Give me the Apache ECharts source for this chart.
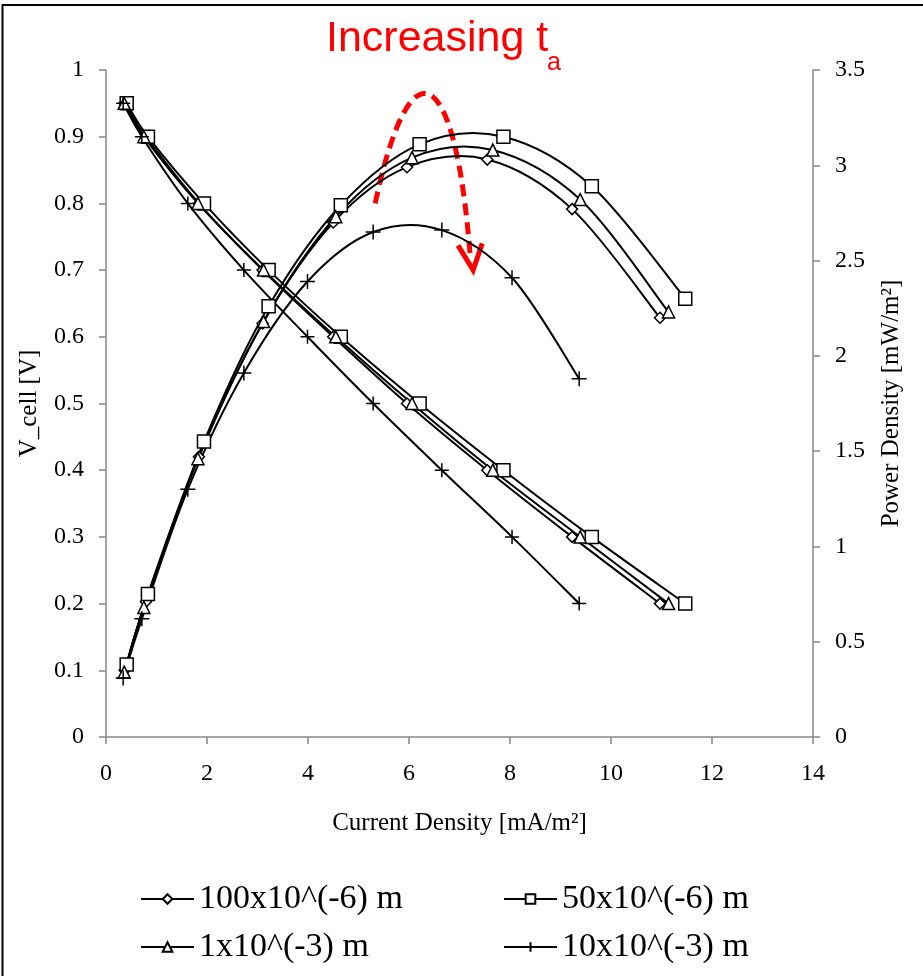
<!DOCTYPE html>
<html lang="en">
<head>
	<meta charset="UTF-8">
	<title>V_cell and power density</title>
	<script src="https://cdn.jsdelivr.net/npm/echarts@6/dist/echarts.min.js"></script>
	<style>
		html, body { margin: 0; padding: 0; background: #fff; }
	</style>
</head>
<body>
	<div id="main" style="width: 923px; height: 976px;"></div>
	<script type="text/javascript">
	// cell voltage levels, same for every case
	var volt = [0.95, 0.9, 0.8, 0.7, 0.6, 0.5, 0.4, 0.3, 0.2];

	// current density [mA/m2]
	var current_100u = [0.37, 0.79, 1.84, 3.10, 4.50, 5.96, 7.55, 9.23, 10.97];
	var current_50u = [0.41, 0.83, 1.94, 3.22, 4.65, 6.21, 7.87, 9.62, 11.47];
	var current_1m = [0.36, 0.75, 1.82, 3.12, 4.55, 6.06, 7.66, 9.39, 11.14];
	var current_10m = [0.34, 0.71, 1.62, 2.73, 3.99, 5.29, 6.65, 8.04, 9.37];

	// power density [mW/m2]
	var power_100u = [0.35, 0.71, 1.47, 2.17, 2.70, 2.99, 3.03, 2.77, 2.20];
	var power_50u = [0.38, 0.75, 1.55, 2.26, 2.79, 3.11, 3.15, 2.89, 2.30];
	var power_1m = [0.34, 0.68, 1.46, 2.18, 2.73, 3.04, 3.08, 2.82, 2.23];
	var power_10m = [0.31, 0.62, 1.30, 1.91, 2.39, 2.65, 2.66, 2.41, 1.88];

	var names = ['100x10^(-6) m', '50x10^(-6) m', '1x10^(-3) m', '10x10^(-3) m'];
	var xTicks = [0, 14, 2];
	var vTicks = [0, 1, 0.1];
	var pTicks = [0, 3.5, 0.5];

	// dashed red arrow, in (current, power) units
	var arrowCurve = [[5.33, 2.80], [6.02, 3.66], [6.91, 3.55], [7.21, 2.53]];
	var arrowHead = [[6.97, 2.58], [7.27, 2.45], [7.45, 2.59]];

	var serif = 'Liberation Serif';
	var axisGray = '#878787';
	var plus = 'path://M0,6 L12,6 M6,0 L6,12';

	function pair(xs, ys) {
		var out = [];
		for (var i = 0; i < xs.length; i++) {
			out.push([xs[i], ys[i]]);
		}
		return out;
	}

	// markers only, the curve itself comes from curve() below
	function marks(name, data, axis, symbol, size) {
		return {
			name: name,
			type: 'line',
			yAxisIndex: axis,
			symbol: symbol,
			symbolSize: size,
			showAllSymbol: true,
			z: 3,
			lineStyle: { color: '#000', width: 2, opacity: 0 },
			itemStyle: { color: '#fff', borderColor: '#000', borderWidth: 1.5 },
			emphasis: { disabled: true },
			data: data
		};
	}

	// excel-like smoothed line (catmull-rom through the points)
	function curve(data, axis) {
		return {
			type: 'custom',
			yAxisIndex: axis,
			silent: true,
			z: 2,
			data: data,
			renderItem: function (params, api) {
				var i = params.dataIndex;
				if (i >= data.length - 1) {
					return null;
				}
				var p = data.map(function (d) { return api.coord(d); });
				var p0 = p[Math.max(i - 1, 0)];
				var p1 = p[i];
				var p2 = p[i + 1];
				var p3 = p[Math.min(i + 2, p.length - 1)];
				var t = 1 / 6;
				return {
					type: 'bezierCurve',
					shape: {
						x1: p1[0], y1: p1[1],
						cpx1: p1[0] + (p2[0] - p0[0]) * t, cpy1: p1[1] + (p2[1] - p0[1]) * t,
						cpx2: p2[0] - (p3[0] - p1[0]) * t, cpy2: p2[1] - (p3[1] - p1[1]) * t,
						x2: p2[0], y2: p2[1]
					},
					style: { stroke: '#000', lineWidth: 2, fill: 'none' }
				};
			}
		};
	}

	function axisBase() {
		return {
			axisLine: { show: true, onZero: false, lineStyle: { color: axisGray, width: 1.5 } },
			axisTick: { show: true, inside: false, length: 7, lineStyle: { color: axisGray, width: 1.5 } },
			splitLine: { show: false },
			axisLabel: { color: '#000', fontFamily: serif, fontSize: 24, margin: 22 },
			nameTextStyle: { color: '#000', fontFamily: serif, fontSize: 25 }
		};
	}

	var xAxis = axisBase();
	xAxis.type = 'value';
	xAxis.min = xTicks[0];
	xAxis.max = xTicks[1];
	xAxis.interval = xTicks[2];
	xAxis.name = 'Current Density [mA/m²]';
	xAxis.nameLocation = 'middle';
	xAxis.nameGap = 74;
	xAxis.axisLabel.margin = 25;

	var yLeft = axisBase();
	yLeft.type = 'value';
	yLeft.min = vTicks[0];
	yLeft.max = vTicks[1];
	yLeft.interval = vTicks[2];
	yLeft.position = 'left';
	yLeft.name = 'V_cell [V]';
	yLeft.nameLocation = 'middle';
	yLeft.nameRotate = 90;
	yLeft.nameGap = 64;

	var yRight = axisBase();
	yRight.type = 'value';
	yRight.min = pTicks[0];
	yRight.max = pTicks[1];
	yRight.interval = pTicks[2];
	yRight.position = 'right';
	yRight.name = 'Power Density [mW/m²]';
	yRight.nameLocation = 'middle';
	yRight.nameRotate = 90;
	yRight.nameGap = 66;

	var legendText = { color: '#000', fontFamily: serif, fontSize: 34 };
	var legendLine = { color: '#000', width: 2, opacity: 1 };

	var option = {
		animation: false,
		backgroundColor: '#fff',
		grid: { left: 106, right: 110, top: 70, bottom: 239, containLabel: false },
		legend: [
			{
				data: [names[0], names[2]],
				orient: 'vertical',
				left: 135,
				top: 877,
				itemWidth: 53,
				itemHeight: 12,
				itemGap: 14,
				selectedMode: false,
				lineStyle: legendLine,
				textStyle: legendText
			},
			{
				data: [names[1], names[3]],
				orient: 'vertical',
				left: 498,
				top: 877,
				itemWidth: 53,
				itemHeight: 12,
				itemGap: 14,
				selectedMode: false,
				lineStyle: legendLine,
				textStyle: legendText
			}
		],
		xAxis: xAxis,
		yAxis: [yLeft, yRight],
		series: [
			curve(pair(current_100u, volt), 0),
			curve(pair(current_50u, volt), 0),
			curve(pair(current_1m, volt), 0),
			curve(pair(current_10m, volt), 0),
			curve(pair(current_100u, power_100u), 1),
			curve(pair(current_50u, power_50u), 1),
			curve(pair(current_1m, power_1m), 1),
			curve(pair(current_10m, power_10m), 1),
			marks(names[0], pair(current_100u, volt), 0, 'diamond', 11),
			marks(names[1], pair(current_50u, volt), 0, 'rect', 13),
			marks(names[2], pair(current_1m, volt), 0, 'triangle', 12),
			marks(names[3], pair(current_10m, volt), 0, plus, 14),
			marks(names[0], pair(current_100u, power_100u), 1, 'diamond', 11),
			marks(names[1], pair(current_50u, power_50u), 1, 'rect', 13),
			marks(names[2], pair(current_1m, power_1m), 1, 'triangle', 12),
			marks(names[3], pair(current_10m, power_10m), 1, plus, 15)
		]
	};

	var chart = echarts.init(document.getElementById('main'));
	chart.setOption(option);

	function px(p) {
		return chart.convertToPixel({ xAxisIndex: 0, yAxisIndex: 1 }, p);
	}

	var c = arrowCurve.map(px);
	var h = arrowHead.map(px);

	chart.setOption({
		graphic: [
			{
				type: 'rect',
				shape: { x: 2.5, y: 5, width: 960, height: 1000 },
				style: { fill: 'none', stroke: '#000', lineWidth: 2 },
				silent: true
			},
			{
				type: 'text',
				left: 326,
				top: 18,
				style: { text: 'Increasing t', fill: '#ff0000', fontFamily: 'Liberation Sans', fontSize: 43 }
			},
			{
				type: 'text',
				left: 547,
				top: 51,
				style: { text: 'a', fill: '#ff0000', fontFamily: 'Liberation Sans', fontSize: 25 }
			},
			{
				type: 'bezierCurve',
				shape: {
					x1: c[0][0], y1: c[0][1],
					cpx1: c[1][0], cpy1: c[1][1],
					cpx2: c[2][0], cpy2: c[2][1],
					x2: c[3][0], y2: c[3][1]
				},
				style: { stroke: '#ff0000', lineWidth: 5, lineDash: [12, 7], fill: 'none' },
				silent: true
			},
			{
				type: 'polyline',
				shape: { points: h },
				style: { stroke: '#ff0000', lineWidth: 5, fill: 'none' },
				silent: true
			}
		]
	});
	</script>
</body>
</html>
